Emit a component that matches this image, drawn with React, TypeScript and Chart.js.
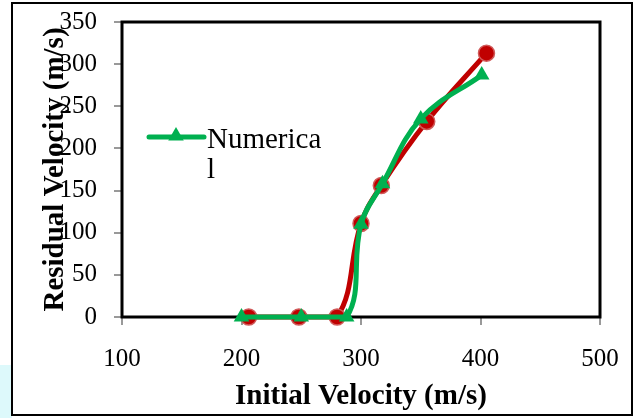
import React, { useEffect, useRef } from "react";
import { Chart, registerables } from "chart.js";

Chart.register(...registerables);

const numericalX = [200, 250, 288, 300, 318, 350, 401];
const numericalY = [0, 0, 0, 110, 158, 235, 287];
const experimentalX = [206, 248, 280, 300, 317, 355, 405];
const experimentalY = [0, 0, 0, 111, 156, 232, 313];
const legendLines = ["Numerica", "l"];
const xTitle = "Initial Velocity (m/s)";
const yTitle = "Residual Velocity (m/s)";

const GREEN = "#00B050";
const RED = "#C00000";
const FONT = "'Liberation Serif', 'Times New Roman', serif";

const framePlugin = {
  id: "frame",
  beforeDraw(chart: any) {
    const { ctx, width, height } = chart;
    ctx.save();
    ctx.fillStyle = "#ffffff";
    ctx.fillRect(0, 0, width, height);
    ctx.fillStyle = "#ddf9fb";
    ctx.fillRect(0, 365, 12, height - 365);
    ctx.strokeStyle = "#000";
    ctx.lineWidth = 2;
    ctx.strokeRect(12, 3, 620, 412);
    ctx.restore();
  },
  beforeDatasetsDraw(chart: any) {
    const { ctx, chartArea } = chart;
    ctx.save();
    ctx.strokeStyle = "#000";
    ctx.lineWidth = 3;
    ctx.strokeRect(
      chartArea.left,
      chartArea.top,
      chartArea.right - chartArea.left,
      chartArea.bottom - chartArea.top
    );
    ctx.restore();
  },
  afterDraw(chart: any) {
    const { ctx } = chart;
    ctx.save();
    ctx.strokeStyle = GREEN;
    ctx.lineWidth = 5;
    ctx.lineCap = "round";
    ctx.beginPath();
    ctx.moveTo(149, 137);
    ctx.lineTo(204, 137);
    ctx.stroke();
    const r = 9;
    const cx = 176;
    const cy = 136;
    ctx.fillStyle = GREEN;
    ctx.beginPath();
    ctx.moveTo(cx, cy - r);
    ctx.lineTo(cx + Math.sin((2 * Math.PI) / 3) * r, cy - Math.cos((2 * Math.PI) / 3) * r);
    ctx.lineTo(cx + Math.sin((4 * Math.PI) / 3) * r, cy - Math.cos((4 * Math.PI) / 3) * r);
    ctx.closePath();
    ctx.fill();
    ctx.fillStyle = "#000";
    ctx.font = `29px ${FONT}`;
    ctx.textBaseline = "alphabetic";
    ctx.textAlign = "left";
    legendLines.forEach((t, i) => ctx.fillText(t, 207, 148 + i * 30));
    ctx.restore();
  },
};

export default function App() {
  const ref = useRef<HTMLCanvasElement | null>(null);
  useEffect(() => {
    document.body.style.margin = "0";
    if (!ref.current) return;
    const chart = new Chart(ref.current, {
      type: "line",
      data: {
        datasets: [
          {
            label: "Numerical",
            data: numericalX.map((x, i) => ({ x, y: numericalY[i] })),
            borderColor: GREEN,
            backgroundColor: GREEN,
            borderWidth: 5,
            pointStyle: "triangle",
            pointRadius: 9,
            pointBorderWidth: 0,
            pointBackgroundColor: GREEN,
            tension: 0.4,
            clip: false as any,
          },
          {
            label: "Experimental",
            data: experimentalX.map((x, i) => ({ x, y: experimentalY[i] })),
            borderColor: RED,
            backgroundColor: RED,
            borderWidth: 5,
            pointStyle: "circle",
            pointRadius: 8,
            pointBorderWidth: 1.5,
            pointBorderColor: "#d05a5a",
            pointBackgroundColor: RED,
            tension: 0.4,
            clip: false as any,
          },
        ],
      },
      options: {
        animation: false,
        responsive: false,
        layout: { padding: { top: 22, right: 35, bottom: 0, left: 0 } },
        plugins: { legend: { display: false }, tooltip: { enabled: false } },
        scales: {
          x: {
            type: "linear",
            min: 100,
            max: 500,
            afterFit: (s: any) => {
              s.height = 101;
              s.paddingLeft = 0;
              s.paddingRight = 0;
            },
            ticks: {
              stepSize: 100,
              color: "#000",
              padding: 19,
              font: { family: FONT, size: 25 },
            },
            grid: {
              drawOnChartArea: false,
              drawTicks: true,
              tickLength: 8,
              color: "#999",
              lineWidth: 2,
            },
            border: { display: true, color: "#999", width: 2 },
            title: {
              display: true,
              text: xTitle,
              color: "#000",
              font: { family: FONT, size: 29, weight: "bold" },
              padding: { top: 0, bottom: 4 },
            },
          },
          y: {
            type: "linear",
            min: 0,
            max: 350,
            afterFit: (s: any) => {
              s.width = 122;
              s.paddingTop = 0;
              s.paddingBottom = 0;
            },
            ticks: {
              stepSize: 50,
              color: "#000",
              padding: 17,
              font: { family: FONT, size: 25 },
            },
            grid: {
              drawOnChartArea: false,
              drawTicks: true,
              tickLength: 8,
              color: "#999",
              lineWidth: 2,
            },
            border: { display: true, color: "#999", width: 2 },
            title: {
              display: true,
              text: yTitle,
              color: "#000",
              font: { family: FONT, size: 29, weight: "bold" },
              padding: { top: 38, bottom: 0 },
            },
          },
        },
      },
      plugins: [framePlugin],
    });
    return () => chart.destroy();
  }, []);
  return (
    <div style={{ width: 635, height: 418 }}>
      <canvas ref={ref} width={635} height={418} style={{ display: "block" }} />
    </div>
  );
}
